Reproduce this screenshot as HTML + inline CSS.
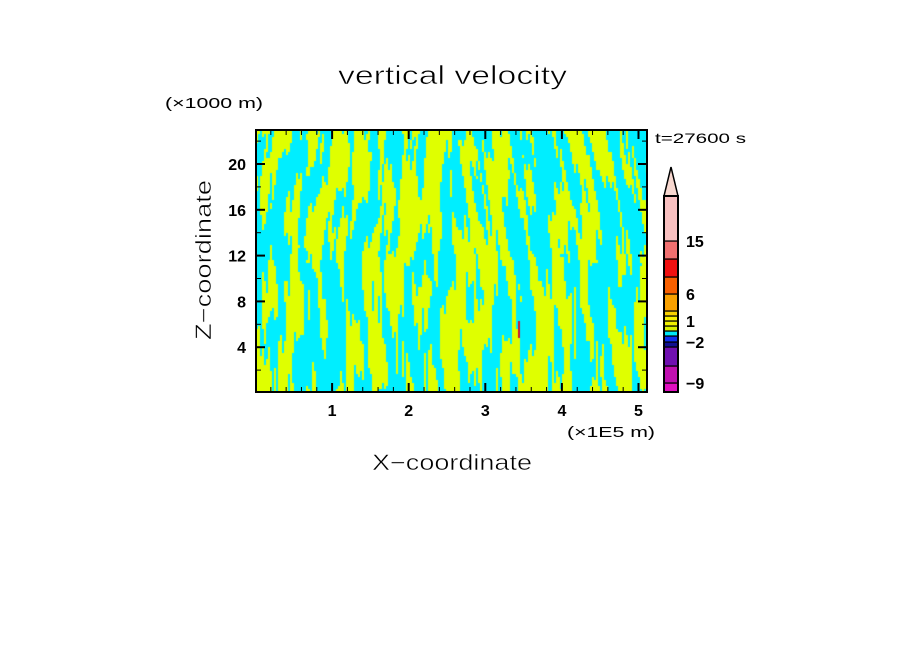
<!DOCTYPE html>
<html><head><meta charset="utf-8"><style>
html,body{margin:0;padding:0;background:#fff;width:904px;height:654px;overflow:hidden}
svg text{font-family:"Liberation Sans",sans-serif;fill:#000}
#fld{position:absolute;left:256px;top:131px}
</style></head><body>
<canvas id="fld" width="391" height="261"></canvas>
<svg id="s" width="904" height="654" style="position:absolute;left:0;top:0">
<text x="338" y="84" font-size="26" textLength="229" lengthAdjust="spacingAndGlyphs" stroke="#fff" stroke-width="0.6">vertical velocity</text>
<text x="165" y="108" font-size="15" textLength="98" lengthAdjust="spacingAndGlyphs">(×1000 m)</text>
<text x="655" y="143" font-size="14" textLength="91" lengthAdjust="spacingAndGlyphs">t=27600 s</text>
<text x="567" y="437" font-size="15" textLength="88" lengthAdjust="spacingAndGlyphs">(×1E5 m)</text>
<text x="372" y="470" font-size="22" textLength="160" lengthAdjust="spacingAndGlyphs" stroke="#fff" stroke-width="0.5">X−coordinate</text>
<text transform="translate(211,340) rotate(-90)" font-size="22" textLength="160" lengthAdjust="spacingAndGlyphs" stroke="#fff" stroke-width="0.5">Z−coordinate</text>
<g id="axes"></g>
<g id="cbar"></g>
</svg>
<script>
const xTicks=[1,2,3,4,5];
const zTicks=[4,8,12,16,20];
const cbColors=["#e010c0","#c010b0","#7010b0","#101090","#1030f0","#00e8f8","#d8f000","#f0f000","#f8f000","#f8d000","#f8a000","#f86000","#f01010","#f07070","#f8c0c0"];
const cbBounds=[-12,-9,-6,-3,-2,-1,0,0.5,1,1.5,3,6,9,12,15,25];
const cbLabels=[-9,-2,1,6,15];
const cbPix=[392,383,366,347,342,336,331,326,321,316,311,294,277,259,241,196];
const NS="http://www.w3.org/2000/svg";
const X0=256,X1=647,Y0=392,Y1=130;
const xs=v=>255.5+v*76.6, zs=v=>393-v*11.45;
function mk(tag,at,parent){const e=document.createElementNS(NS,tag);for(const k in at)e.setAttribute(k,at[k]);parent.appendChild(e);return e;}
const ax=document.getElementById('axes');
const cv=document.getElementById('fld'),c=cv.getContext('2d');
for(let i=0;i<391;i+=2){for(let j=0;j<261;j+=3){
 const x=i,z=261-j;
 const tilt=(z>130?(z-130)*0.12*Math.sign(x-195):0);
 const u=x+tilt;
 let f=Math.sin(u*0.23+1.6*Math.sin(z*0.037+x*0.031))+0.7*Math.sin(u*0.071-z*0.021+1)
  +0.6*Math.sin(u*0.53+z*0.043+2*Math.sin(x*0.011))+0.5*Math.sin(z*0.07+x*0.047)
  +0.45*Math.sin(u*1.13+0.7*Math.sin(z*0.06))+0.3*Math.sin(x*0.017+z*0.013+3);
 c.fillStyle=f>0.05?"#dfff00":"#00eeff";
 c.fillRect(i,j,2,3);
}}
c.fillStyle="#d01030";c.fillRect(262,190,2,17);
let r=mk('rect',{x:X0,y:Y1,width:X1-X0,height:Y0-Y1,fill:'none',stroke:'#000','stroke-width':2},ax);

for(let v=0.2;v<5.15;v+=0.2){const px=xs(v),maj=Math.abs(v-Math.round(v))<0.01;const L=maj?9:5;
 mk('line',{x1:px,x2:px,y1:Y0,y2:Y0-L,stroke:'#000','stroke-width':maj?2:1},ax);
 mk('line',{x1:px,x2:px,y1:Y1,y2:Y1+L,stroke:'#000','stroke-width':maj?2:1},ax);}
for(let v=2;v<23;v+=2){const py=zs(v),maj=v%4==0;const L=maj?9:5;
 mk('line',{x1:X0,x2:X0+L,y1:py,y2:py,stroke:'#000','stroke-width':maj?2:1},ax);
 mk('line',{x1:X1,x2:X1-L,y1:py,y2:py,stroke:'#000','stroke-width':maj?2:1},ax);}
xTicks.forEach(v=>{const t=mk('text',{x:xs(v),y:416,'font-size':16,'font-weight':'bold','text-anchor':'middle'},ax);t.textContent=v;
 });
zTicks.forEach(v=>{const t=mk('text',{x:246,y:zs(v)+6,'font-size':16,'font-weight':'bold','text-anchor':'end'},ax);t.textContent=v;
 });
const cb=document.getElementById('cbar');
cbColors.forEach((col,i)=>{const y2=cbPix[i],y1=cbPix[i+1];
 const e=mk('rect',{x:664,y:y1,width:14,height:y2-y1,fill:col,stroke:'#000','stroke-width':1.2},cb);
 });
const tri=mk('polygon',{points:'664,196 678,196 671,167',fill:'#f8d8d0',stroke:'#000','stroke-width':1.5},cb);

mk('rect',{x:664,y:196,width:14,height:196,fill:'none',stroke:'#000','stroke-width':2},cb);
cbLabels.forEach(v=>{const k=cbBounds.indexOf(v);const py=cbPix[k];
 const t=mk('text',{x:686,y:py+6,'font-size':16,'font-weight':'bold'},cb);t.textContent=v<0?'−'+(-v):v;
 });
</script>
</body></html>
